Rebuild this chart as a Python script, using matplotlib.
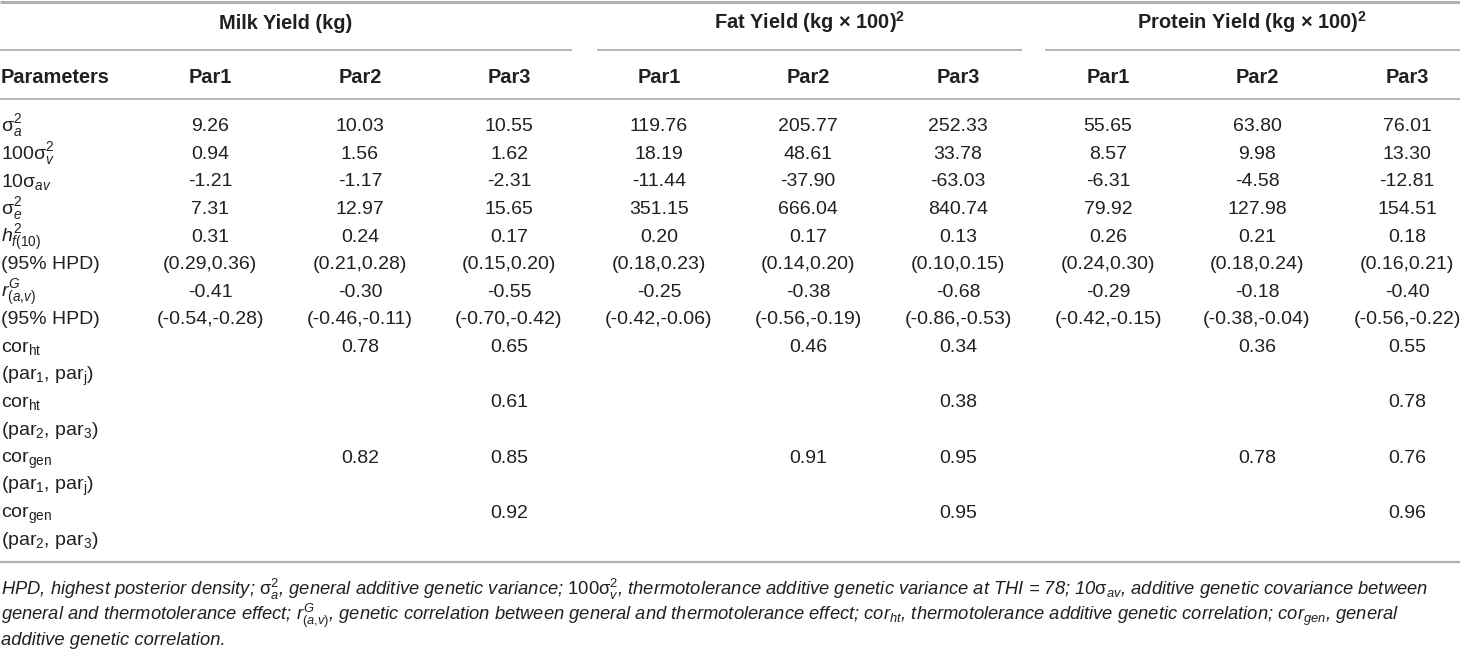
import matplotlib
matplotlib.use("Agg")
import matplotlib.pyplot as plt

plt.rcParams['font.family'] = ['Liberation Sans', 'DejaVu Sans']
plt.rcParams['mathtext.fontset'] = 'custom'
plt.rcParams['mathtext.rm'] = 'Liberation Sans'
plt.rcParams['mathtext.it'] = 'Liberation Sans:italic'
plt.rcParams['mathtext.bf'] = 'Liberation Sans:bold'
plt.rcParams['mathtext.sf'] = 'Liberation Sans'

# table content
traits = ["Milk Yield (kg)", r"Fat Yield (kg × 100)$^{\mathbf{2}}$", r"Protein Yield (kg × 100)$^{\mathbf{2}}$"]
par_names = ["Par1", "Par2", "Par3"]
param_labels = [
    r"$\mathrm{σ}_{a}^{2}$",
    r"100$\mathrm{σ}_{v}^{2}$",
    r"10$\mathrm{σ}_{av}$",
    r"$\mathrm{σ}_{e}^{2}$",
    r"$h_{f\mathrm{(10)}}^{2}$",
    "(95% HPD)",
    r"$r_{(a{,}v)}^{G}$",
    "(95% HPD)",
    r"cor$_{\mathrm{ht}}$",
    r"(par$_{\mathrm{1}}$, par$_{\mathrm{j}}$)",
    r"cor$_{\mathrm{ht}}$",
    r"(par$_{\mathrm{2}}$, par$_{\mathrm{3}}$)",
    r"cor$_{\mathrm{gen}}$",
    r"(par$_{\mathrm{1}}$, par$_{\mathrm{j}}$)",
    r"cor$_{\mathrm{gen}}$",
    r"(par$_{\mathrm{2}}$, par$_{\mathrm{3}}$)",
]

milk_par1 = ["9.26", "0.94", "-1.21", "7.31", "0.31", "(0.29,0.36)", "-0.41", "(-0.54,-0.28)",
             "", "", "", "", "", "", "", ""]
milk_par2 = ["10.03", "1.56", "-1.17", "12.97", "0.24", "(0.21,0.28)", "-0.30", "(-0.46,-0.11)",
             "0.78", "", "", "", "0.82", "", "", ""]
milk_par3 = ["10.55", "1.62", "-2.31", "15.65", "0.17", "(0.15,0.20)", "-0.55", "(-0.70,-0.42)",
             "0.65", "", "0.61", "", "0.85", "", "0.92", ""]
fat_par1 = ["119.76", "18.19", "-11.44", "351.15", "0.20", "(0.18,0.23)", "-0.25", "(-0.42,-0.06)",
            "", "", "", "", "", "", "", ""]
fat_par2 = ["205.77", "48.61", "-37.90", "666.04", "0.17", "(0.14,0.20)", "-0.38", "(-0.56,-0.19)",
            "0.46", "", "", "", "0.91", "", "", ""]
fat_par3 = ["252.33", "33.78", "-63.03", "840.74", "0.13", "(0.10,0.15)", "-0.68", "(-0.86,-0.53)",
            "0.34", "", "0.38", "", "0.95", "", "0.95", ""]
prot_par1 = ["55.65", "8.57", "-6.31", "79.92", "0.26", "(0.24,0.30)", "-0.29", "(-0.42,-0.15)",
             "", "", "", "", "", "", "", ""]
prot_par2 = ["63.80", "9.98", "-4.58", "127.98", "0.21", "(0.18,0.24)", "-0.18", "(-0.38,-0.04)",
             "0.36", "", "", "", "0.78", "", "", ""]
prot_par3 = ["76.01", "13.30", "-12.81", "154.51", "0.18", "(0.16,0.21)", "-0.40", "(-0.56,-0.22)",
             "0.55", "", "0.78", "", "0.76", "", "0.96", ""]

columns = [milk_par1, milk_par2, milk_par3, fat_par1, fat_par2, fat_par3, prot_par1, prot_par2, prot_par3]

footnote = [
    r"HPD, highest posterior density; $\mathrm{σ}_{a}^{2}$, general additive genetic variance; "
    r"$\mathrm{100σ}_{v}^{2}$, thermotolerance additive genetic variance at THI = 78; "
    r"10$\mathrm{σ}_{av}$, additive genetic covariance between",
    r"general and thermotolerance effect; $r_{(a{,}v)}^{G}$, genetic correlation between general "
    r"and thermotolerance effect; cor$_{ht}$, thermotolerance additive genetic correlation; "
    r"cor$_{gen}$, general",
    "additive genetic correlation.",
]

# layout (pixel coordinates)
W, H = 1460, 650
col_x = [210, 360, 509, 659, 808, 958, 1108, 1257, 1407]
group_spans = [(0, 572), (597, 1022), (1045, 1460)]
row0, row_step = 124.3, 27.6
ink = '#231f20'
rule = '#b0b0b0'
fs = 14
fs_head = 14.4

fig = plt.figure(figsize=(W / 100, H / 100), dpi=100)
ax = fig.add_axes([0, 0, 1, 1])
ax.set_xlim(0, W)
ax.set_ylim(H, 0)
ax.axis('off')

# rules
ax.plot([0, W], [1.5, 1.5], color=rule, lw=2.2, solid_capstyle='butt')
for x0, x1 in group_spans:
    ax.plot([x0, x1], [50, 50], color=rule, lw=1.3, solid_capstyle='butt')
ax.plot([0, W], [99, 99], color=rule, lw=1.3, solid_capstyle='butt')
ax.plot([0, W], [562, 562], color=rule, lw=1.6, solid_capstyle='butt')

# headers
for (x0, x1), name in zip(group_spans, traits):
    ax.text((x0 + x1) / 2, 22 + 7, name, ha='center', va='baseline',
            fontsize=fs_head, fontweight='bold', color=ink)
ax.text(1, 76 + 7, "Parameters", ha='left', va='baseline', fontsize=fs_head,
        fontweight='bold', color=ink)
for i, x in enumerate(col_x):
    ax.text(x, 76 + 7, par_names[i % 3], ha='center', va='baseline',
            fontsize=fs_head, fontweight='bold', color=ink)

# body
for r, lab in enumerate(param_labels):
    y = row0 + r * row_step + 7
    ax.text(1, y, lab, ha='left', va='baseline', fontsize=fs, color=ink)
    for x, col in zip(col_x, columns):
        if col[r]:
            ax.text(x, y, col[r], ha='center', va='baseline', fontsize=fs, color=ink)

# footnote
for k, line in enumerate(footnote):
    ax.text(1, 589 + k * 25 + 6, line, ha='left', va='baseline', fontsize=13.2,
            style='italic', color=ink)

fig.savefig("out.png", dpi=100)
